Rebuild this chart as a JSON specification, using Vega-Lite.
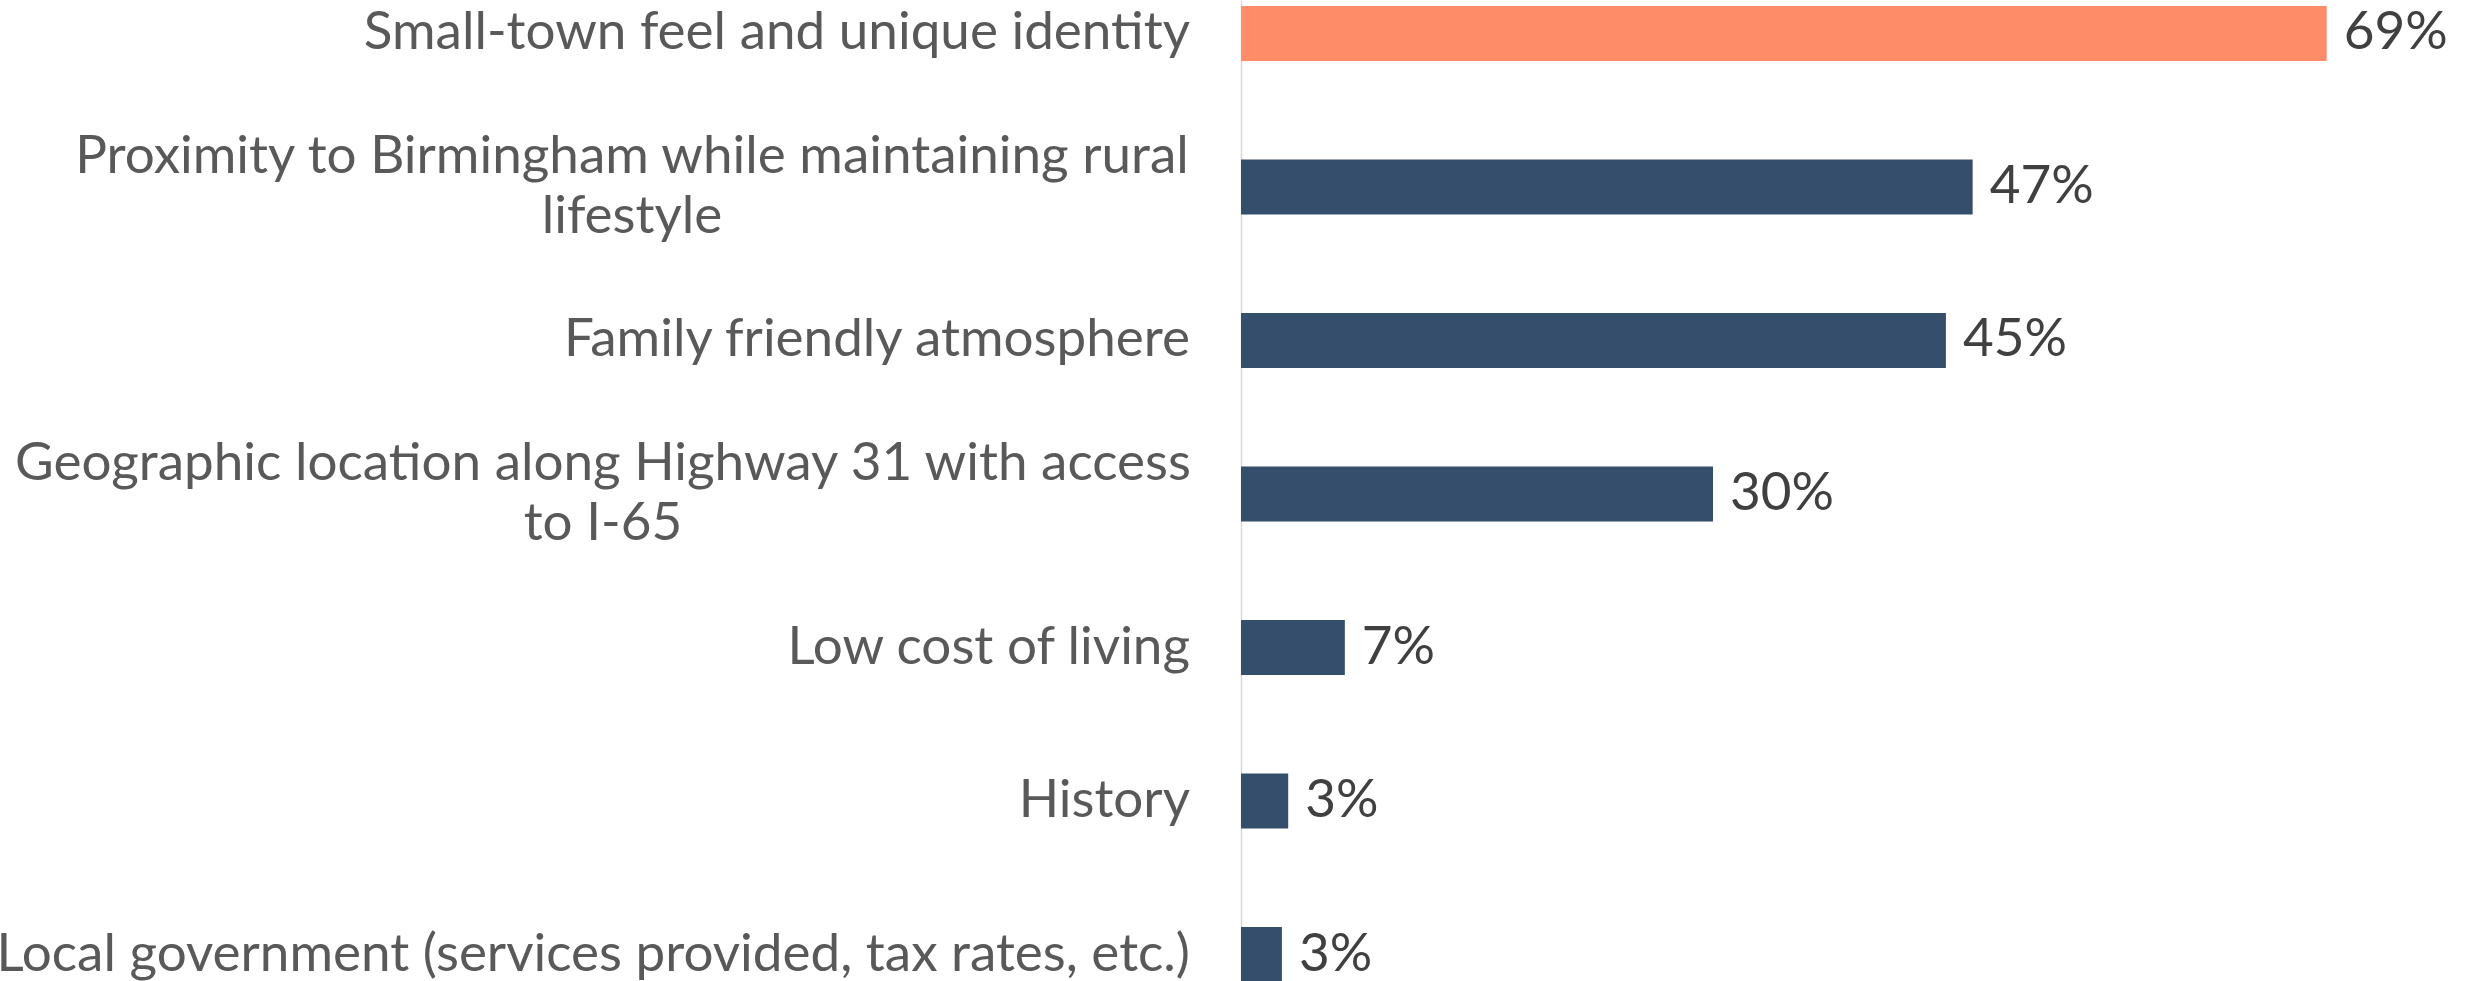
{
  "$schema": "https://vega.github.io/schema/vega-lite/v6.json",
  "width": 1232,
  "height": 988,
  "autosize": {"type": "none"},
  "padding": {"left": 1241, "top": 0, "right": 0, "bottom": 0},
  "background": "white",
  "config": {"view": {"stroke": null}, "font": "Lato"},
  "data": {
    "values": [
      {"category": "Small-town feel and unique identity", "share": 0.69},
      {"category": "Proximity to Birmingham while maintaining rural lifestyle", "share": 0.465},
      {"category": "Family friendly atmosphere", "share": 0.448},
      {"category": "Geographic location along Highway 31 with access to I-65", "share": 0.30},
      {"category": "Low cost of living", "share": 0.066},
      {"category": "History", "share": 0.030},
      {"category": "Local government (services provided, tax rates, etc.)", "share": 0.026}
    ]
  },
  "encoding": {
    "y": {
      "field": "category",
      "type": "nominal",
      "sort": null,
      "scale": {"paddingInner": 0.6417, "paddingOuter": 0.039},
      "axis": {
        "title": null,
        "ticks": false,
        "labels": false,
        "domainColor": "#d9d9d9",
        "domainWidth": 1.5
      }
    },
    "x": {
      "field": "share",
      "type": "quantitative",
      "scale": {"domain": [0, 0.783], "nice": false},
      "axis": null
    }
  },
  "layer": [
    {
      "mark": {"type": "bar"},
      "encoding": {
        "color": {
          "condition": {"test": "datum.category == 'Small-town feel and unique identity'", "value": "#ff8c69"},
          "value": "#344e6b"
        }
      }
    },
    {
      "mark": {"type": "text", "align": "left", "baseline": "middle", "dx": 17, "font": "Lato", "fontSize": 53, "color": "#404040"},
      "encoding": {
        "text": {"field": "share", "type": "quantitative", "format": ".0%"}
      }
    },
    {
      "transform": [
        {"calculate": "datum.category == 'Proximity to Birmingham while maintaining rural lifestyle' ? ['Proximity to Birmingham while maintaining rural', 'lifestyle'] : datum.category == 'Geographic location along Highway 31 with access to I-65' ? ['Geographic location along Highway 31 with access', 'to I-65'] : datum.category", "as": "label"}
      ],
      "mark": {
        "type": "text",
        "baseline": "middle",
        "font": "Lato",
        "fontSize": 53,
        "color": "#595959",
        "lineHeight": 60,
        "align": {"expr": "isArray(datum.label) ? 'center' : 'right'"},
        "dx": {"expr": "indexof(datum.category, 'Proximity') == 0 ? -609 : indexof(datum.category, 'Geographic') == 0 ? -638 : -51"},
        "dy": {"expr": "isArray(datum.label) ? -30 : 0"}
      },
      "encoding": {
        "x": {"datum": 0},
        "text": {"field": "label", "type": "nominal"}
      }
    }
  ]
}
